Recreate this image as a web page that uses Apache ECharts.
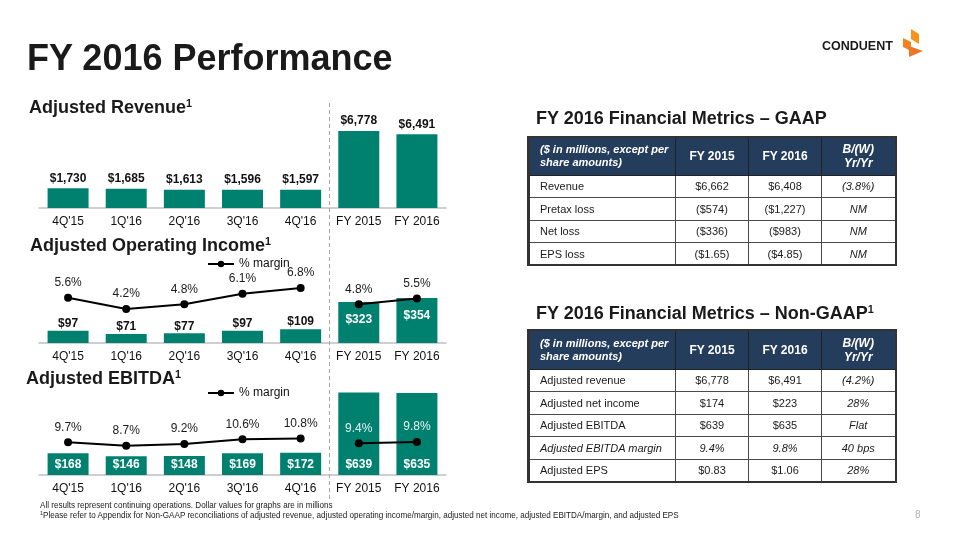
<!DOCTYPE html>
<html>
<head>
<meta charset="utf-8">
<script src="https://cdn.jsdelivr.net/npm/echarts@6/dist/echarts.min.js"></script>
<style>
  html, body { margin: 0; padding: 0; background: #fff; }
  body { width: 960px; height: 540px; position: relative; overflow: hidden; font-family: 'Liberation Sans', Arial, sans-serif; }
  #chart { position: absolute; left: 0; top: 0; width: 960px; height: 540px; }
  .txt { position: absolute; white-space: nowrap; color: #1a1a1a; font-weight: bold; }
  .txt sup { font-size: 0.6em; vertical-align: 0.55em; line-height: 0; }
  table.m { position: absolute; border-collapse: collapse; table-layout: fixed; width: 367px; font-size: 11px; color: #1a1a1a; }
  table.m td, table.m th { border: 1px solid #4a4a4a; padding: 0; text-align: center; overflow: hidden; white-space: nowrap; }
  table.m { border: 2px solid #333; border-left-width: 3px; }
  table.m th { background: #253d5c; color: #fff; font-size: 12px; font-weight: bold; line-height: 14px; border-color: #222; }
  table.m th.f { text-align: left; padding-left: 10px; font-style: italic; font-size: 11px; line-height: 13px; white-space: normal; }
  table.m th.b { font-style: italic; }
  table.m td.f { text-align: left; padding-left: 10px; }
  table.m td.b { font-style: italic; }
  table.m tr.it td { font-style: italic; }
  .foot { position: absolute; left: 40px; font-size: 9px; color: #1a1a1a; white-space: nowrap; transform: scaleX(0.9); transform-origin: left center; line-height: 10px; }
  .foot sup { font-size: 6px; vertical-align: 3px; line-height: 0; }
</style>
</head>
<body>
<div id="chart"></div>

<div class="txt" style="left:27px; top:40px; font-size:36px; line-height:36px;">FY 2016 Performance</div>
<div class="txt" style="left:29px; top:98px; font-size:18px; line-height:18px;">Adjusted Revenue<sup>1</sup></div>
<div class="txt" style="left:30px; top:236px; font-size:18px; line-height:18px;">Adjusted Operating Income<sup>1</sup></div>
<div class="txt" style="left:26px; top:369px; font-size:18px; line-height:18px;">Adjusted EBITDA<sup>1</sup></div>
<div class="txt" style="left:536px; top:109px; font-size:18px; line-height:18px;">FY 2016 Financial Metrics – GAAP</div>
<div class="txt" style="left:536px; top:304px; font-size:18px; line-height:18px;">FY 2016 Financial Metrics – Non-GAAP<sup>1</sup></div>
<div class="txt" style="left:822px; top:39px; font-size:12.5px; line-height:14px; color:#1a1a1a; font-weight:900;">CONDUENT</div>

<table class="m" id="gaap" style="left:527px; top:136px;"></table>
<table class="m" id="nongaap" style="left:527px; top:329px;"></table>

<div class="foot" style="top:500px;">All results represent continuing operations. Dollar values for graphs are in millions</div>
<div class="foot" style="top:510px;"><sup>1</sup>Please refer to Appendix for Non-GAAP reconciliations of adjusted revenue, adjusted operating income/margin, adjusted net income, adjusted EBITDA/margin, and adjusted EPS</div>
<div style="position:absolute; left:915px; top:509px; font-size:10px; color:#b0b0b0;">8</div>

<script>
// ---------- data ----------
const categories = ["4Q'15", "1Q'16", "2Q'16", "3Q'16", "4Q'16", "FY 2015", "FY 2016"];
const revenue = [1730, 1685, 1613, 1596, 1597, 6778, 6491];
const opIncome = [97, 71, 77, 97, 109, 323, 354];
const opMarginQuarter = [5.6, 4.2, 4.8, 6.1, 6.8];
const opMarginFY = [4.8, 5.5];
const ebitda = [168, 146, 148, 169, 172, 639, 635];
const ebitdaMarginQuarter = [9.7, 8.7, 9.2, 10.6, 10.8];
const ebitdaMarginFY = [9.4, 9.8];

const tableHeader = ["($ in millions, except per share amounts)", "FY 2015", "FY 2016", "B/(W)<br>Yr/Yr"];
const gaapLabels = ["Revenue", "Pretax loss", "Net loss", "EPS loss"];
const gaapFY2015 = ["$6,662", "($574)", "($336)", "($1.65)"];
const gaapFY2016 = ["$6,408", "($1,227)", "($983)", "($4.85)"];
const gaapChange = ["(3.8%)", "NM", "NM", "NM"];
const nonGaapLabels = ["Adjusted revenue", "Adjusted net income", "Adjusted EBITDA", "Adjusted EBITDA margin", "Adjusted EPS"];
const nonGaapFY2015 = ["$6,778", "$174", "$639", "9.4%", "$0.83"];
const nonGaapFY2016 = ["$6,491", "$223", "$635", "9.8%", "$1.06"];
const nonGaapChange = ["(4.2%)", "28%", "Flat", "40 bps", "28%"];
const italicRows = ["Adjusted EBITDA margin"];

// ---------- tables ----------
function buildTable(id, labels, a, b, c, headH, rowH) {
  let h = '<colgroup><col style="width:147px"><col style="width:73px"><col style="width:73px"><col style="width:74px"></colgroup>';
  h += '<tr style="height:' + headH + 'px"><th class="f">' + tableHeader[0] + '</th><th>' + tableHeader[1] + '</th><th>' + tableHeader[2] + '</th><th class="b">' + tableHeader[3] + '</th></tr>';
  labels.forEach((l, i) => {
    const it = italicRows.indexOf(l) >= 0 ? ' class="it"' : '';
    h += '<tr' + it + ' style="height:' + rowH + 'px"><td class="f">' + l + '</td><td>' + a[i] + '</td><td>' + b[i] + '</td><td class="b">' + c[i] + '</td></tr>';
  });
  document.getElementById(id).innerHTML = h;
}
buildTable('gaap', gaapLabels, gaapFY2015, gaapFY2016, gaapChange, 38, 22.5);
buildTable('nongaap', nonGaapLabels, nonGaapFY2015, nonGaapFY2016, nonGaapChange, 39, 22.5);

// ---------- chart ----------
const TEAL = '#00806F';
const FONT = "'Liberation Sans', Arial, sans-serif";
const dollar = p => '$' + Number(p.value).toLocaleString('en-US');
const pct = p => p.value + '%';
const nQ = opMarginQuarter.length;

function quarterLine(q) { return q.concat(categories.slice(q.length).map(() => '-')); }
function fyLine(q, fy) { return q.map(() => '-').concat(fy); }

const xAxisBase = i => ({
  type: 'category', gridIndex: i, data: categories,
  axisLine: { lineStyle: { color: '#c0c0c0', width: 1.5 } },
  axisTick: { show: false },
  axisLabel: { color: '#111', fontSize: 12, fontFamily: FONT, margin: 8, interval: 0 }
});
const yHidden = (i, max) => ({ type: 'value', gridIndex: i, min: 0, max: max, show: false, splitLine: { show: false } });

const lineStyleCommon = {
  type: 'line', symbol: 'circle', symbolSize: 8,
  itemStyle: { color: '#000' }, lineStyle: { color: '#000', width: 2 },
  label: { show: true, position: 'top', distance: 5, color: '#1a1a1a', fontSize: 12, fontFamily: FONT, formatter: pct },
  z: 5
};
const legendBase = top => ({
  data: ['% margin'], left: 207, top: top, itemWidth: 26, itemHeight: 8, padding: 0,
  textStyle: { color: '#111', fontSize: 12, fontFamily: FONT }
});

const option = {
  animation: false,
  grid: [
    { left: 39, width: 407, top: 108, height: 100 },
    { left: 39, width: 407, top: 263, height: 80 },
    { left: 39, width: 407, top: 385, height: 90 }
  ],
  xAxis: [xAxisBase(0), xAxisBase(1), xAxisBase(2)],
  yAxis: [yHidden(0, 8800), yHidden(1, 630), yHidden(1, 9.9), yHidden(2, 698), yHidden(2, 26.7)],
  legend: [legendBase(258), legendBase(387)],
  series: [
    {
      type: 'bar', xAxisIndex: 0, yAxisIndex: 0, data: revenue, barWidth: 41,
      itemStyle: { color: TEAL },
      label: { show: true, position: 'top', distance: 4, color: '#111', fontWeight: 'bold', fontSize: 12, fontFamily: FONT, formatter: dollar }
    },
    {
      type: 'bar', xAxisIndex: 1, yAxisIndex: 1, barWidth: 41,
      itemStyle: { color: TEAL },
      data: opIncome.map((v, i) => i < nQ
        ? { value: v }
        : { value: v, label: { position: 'insideTop', distance: 12, color: '#fff' } }),
      label: { show: true, position: 'top', distance: 1, color: '#111', fontWeight: 'bold', fontSize: 12, fontFamily: FONT, formatter: dollar }
    },
    Object.assign({}, lineStyleCommon, { name: '% margin', xAxisIndex: 1, yAxisIndex: 2, data: quarterLine(opMarginQuarter) }),
    Object.assign({}, lineStyleCommon, { name: '% margin', xAxisIndex: 1, yAxisIndex: 2, data: fyLine(opMarginQuarter, opMarginFY) }),
    {
      type: 'bar', xAxisIndex: 2, yAxisIndex: 3, data: ebitda, barWidth: 41,
      itemStyle: { color: TEAL },
      label: { show: true, position: 'insideBottom', distance: 4, color: '#fff', fontWeight: 'bold', fontSize: 12, fontFamily: FONT, formatter: dollar }
    },
    Object.assign({}, lineStyleCommon, { name: '% margin', xAxisIndex: 2, yAxisIndex: 4, data: quarterLine(ebitdaMarginQuarter) }),
    Object.assign({}, lineStyleCommon, {
      name: '% margin', xAxisIndex: 2, yAxisIndex: 4, data: fyLine(ebitdaMarginQuarter, ebitdaMarginFY),
      label: Object.assign({}, lineStyleCommon.label, { color: '#e6f2ef' })
    })
  ],
  graphic: [
    { type: 'line', shape: { x1: 329.5, y1: 103, x2: 329.5, y2: 502 }, style: { stroke: '#a6a6a6', lineWidth: 1, lineDash: [4, 3] }, z: 1 },
    { type: 'polygon', shape: { points: [[911, 29], [919, 34], [919, 44], [911, 39]] }, style: { fill: '#F7941D' } },
    { type: 'polygon', shape: { points: [[903, 38], [911, 42], [911, 51], [903, 47]] }, style: { fill: '#F58220' } },
    { type: 'polygon', shape: { points: [[909, 46], [923, 51], [909, 57]] }, style: { fill: '#EE7624' } }
  ]
};

const chart = echarts.init(document.getElementById('chart'), null, { renderer: 'canvas' });
chart.setOption(option);
</script>
</body>
</html>
